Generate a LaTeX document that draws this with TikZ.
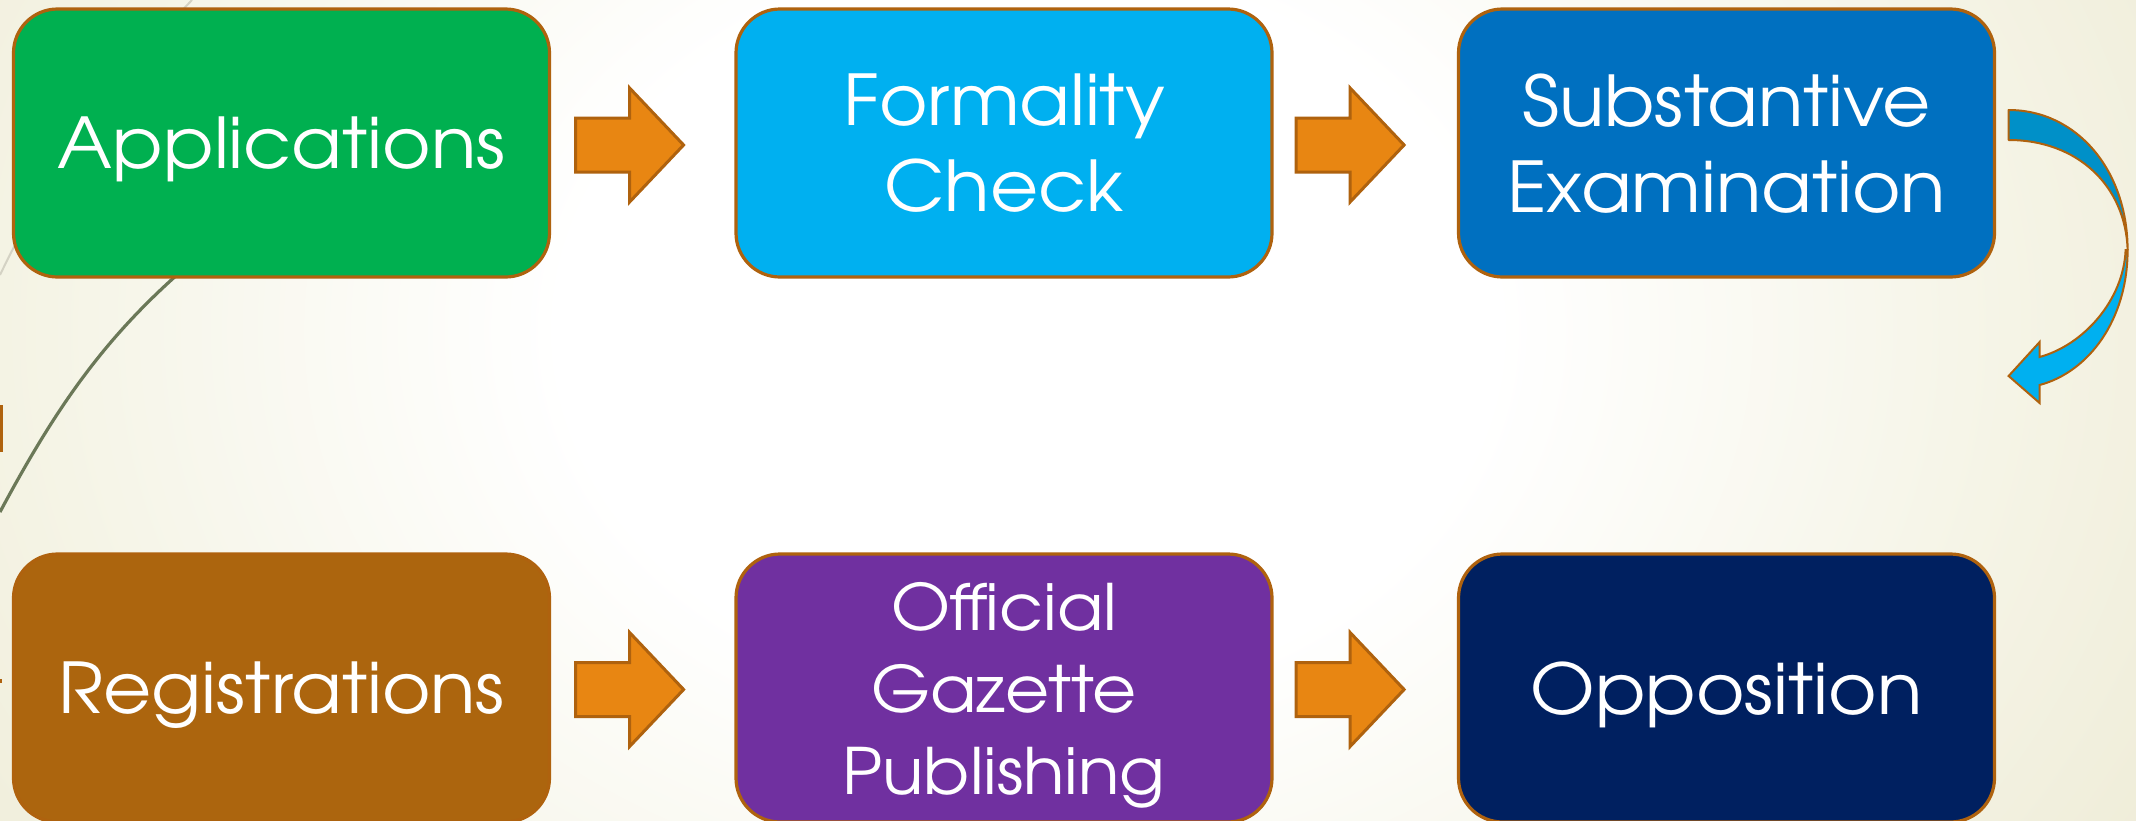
\documentclass[tikz,border=0pt]{standalone}
\usepackage{fontspec}
\setmainfont[FakeStretch=1.06]{TeX Gyre Adventor}
\usetikzlibrary{calc}
\definecolor{bgcream}{RGB}{234,230,204}
\definecolor{bgmid}{RGB}{245,244,230}
\definecolor{edgebrown}{RGB}{175,98,14}
\definecolor{arrowfill}{RGB}{232,134,18}
\definecolor{cgreen}{RGB}{0,176,80}
\definecolor{ccyan}{RGB}{0,176,240}
\definecolor{cblue}{RGB}{0,112,192}
\definecolor{cbrown}{RGB}{172,101,14}
\definecolor{cpurple}{RGB}{112,48,160}
\definecolor{cnavy}{RGB}{0,32,96}
\definecolor{cbackblue}{RGB}{0,144,200}
\definecolor{wispdark}{RGB}{107,120,88}
\definecolor{wisplight}{RGB}{212,210,196}
\pgfdeclareradialshading{bgrad}{\pgfpoint{0bp}{0bp}}{color(0bp)=(white); color(10bp)=(white); color(21bp)=(bgmid); color(34bp)=(bgcream); color(50bp)=(bgcream)}
\begin{document}
\begin{tikzpicture}[x=0.5pt,y=-0.5pt,
  stage/.style={draw=edgebrown, line width=1.6pt, rounded corners=22pt,
    minimum width=268pt, minimum height=134pt, inner sep=0pt, text depth=0pt,
    text=white, align=center, font=\fontsize{35}{43}\selectfont},
  smallstage/.style={stage, font=\fontsize{32}{41}\selectfont},
  blockarrow/.pic={\draw[fill=arrowfill, draw=edgebrown, line width=1.5pt, line join=miter]
    (0,-27) -- (54,-27) -- (54,-57) -- (108,0) -- (54,57) -- (54,27) -- (0,27) -- cycle;}
]
\useasboundingbox (0,0) rectangle (2136,820);
\begin{scope}
  \clip (0,0) rectangle (2136,820);
  \shade[shading=bgrad] (-140,-580) rectangle (2196,1240);
  % wisp lines
  \draw[wisplight, line width=1pt] (0,275) .. controls (50,170) and (120,75) .. (192,0);
  \draw[wispdark, line width=1.6pt] (0,512) .. controls (60,400) and (110,330) .. (200,255);
  \fill[edgebrown] (0,405) rectangle (3,452);
  \fill[edgebrown] (0,679) rectangle (2,683);
\end{scope}

% stages
\node[stage, fill=cgreen]  (app) at (281.5,143) {Applications};
\node[stage, fill=ccyan]   (form) at (1004,143) {Formality\\Check};
\node[stage, fill=cblue]   (subst) at (1726.5,143) {Substantive\\Examination};
\node[stage, fill=cbrown]  (reg) at (281.5,688) {Registrations};
\node[smallstage, fill=cpurple] (gaz) at (1004,688) {Official\\Gazette\\Publishing};
\node[stage, fill=cnavy]   (opp) at (1726.5,688) {Opposition};

% straight block arrows
\pic (a1) at ($(app.east)+(24.5,2)$) {blockarrow};
\pic (a2) at ($(form.east)+(22.5,2)$) {blockarrow};
\pic (a3) at ($(reg.east)+(24.5,1.5)$) {blockarrow};
\pic (a4) at ($(gaz.east)+(22.5,1.5)$) {blockarrow};

% curved arrow from Substantive Examination down to Opposition row
\coordinate (ct) at ($(subst.east)+(12.5,-18)$);
\begin{scope}[shift={(ct)}]
  \draw[fill=cbackblue, draw=edgebrown, line width=1pt, line join=round]
    (0,-15) .. controls (68,-15) and (119,45) .. (119,125)
    .. controls (117,60) and (68,15) .. (0,15) -- cycle;
  \draw[fill=ccyan, draw=edgebrown, line width=1pt, line join=miter]
    (119,125) .. controls (119,195) and (80,247) .. (31,260)
    -- (31,278) -- (0,251) -- (31,217) -- (31,232)
    .. controls (75,220) and (115,175) .. (117,125) -- cycle;
\end{scope}
\end{tikzpicture}
\end{document}
